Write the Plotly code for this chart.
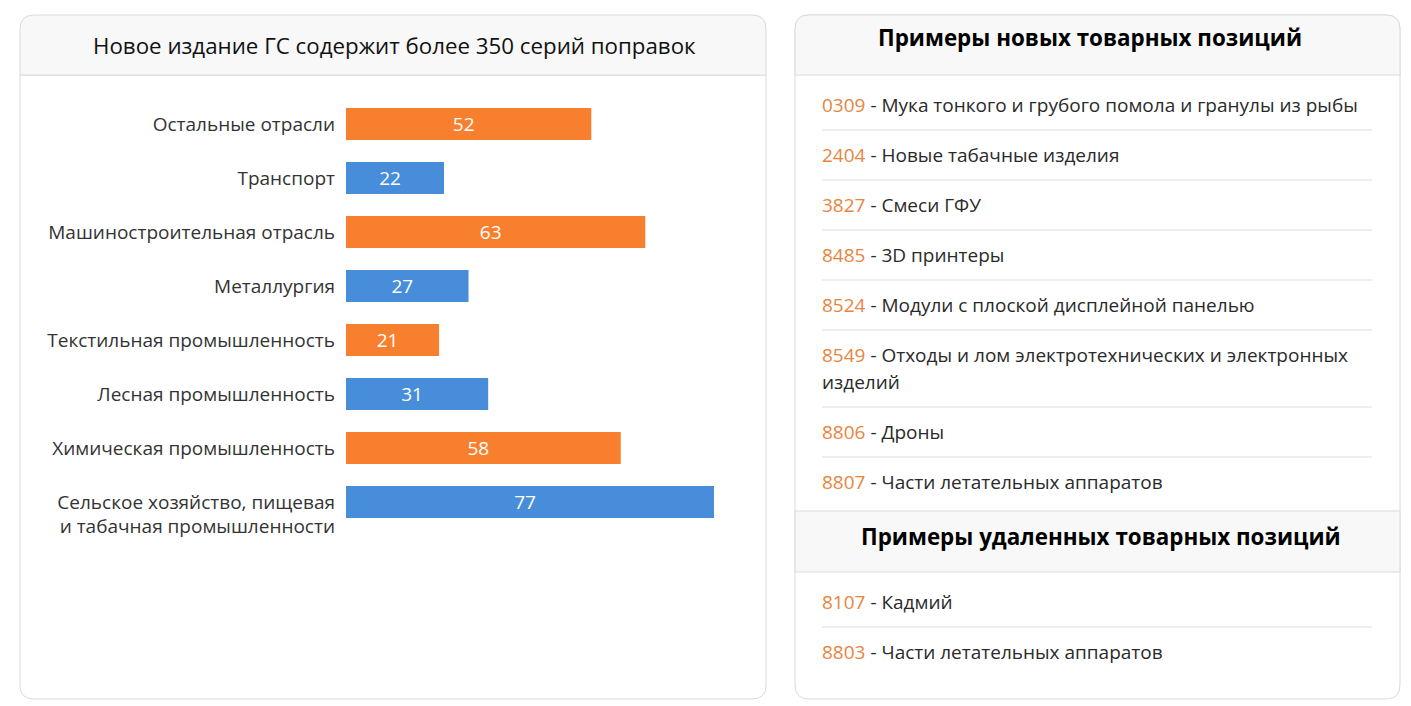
import plotly.graph_objects as go

W, H = 1411, 706
OFF = 8  # default page body margin; figure is drawn at (8, 8) in the page

# ---------------- data ----------------
categories = [
    "Остальные отрасли",
    "Транспорт",
    "Машиностроительная отрасль",
    "Металлургия",
    "Текстильная промышленность",
    "Лесная промышленность",
    "Химическая промышленность",
    "Сельское хозяйство, пищевая<br>и табачная промышленности",
]
values = [52, 22, 63, 27, 21, 31, 58, 77]
bar_colors = ["#F77F2D", "#478DD9", "#F77F2D", "#478DD9",
              "#F77F2D", "#478DD9", "#F77F2D", "#478DD9"]

chart_title = "Новое издание ГС содержит более 350 серий поправок"
new_title = "Примеры новых товарных позиций"
new_codes = ["0309", "2404", "3827", "8485", "8524", "8549", "8806", "8807"]
new_names = [
    "Мука тонкого и грубого помола и гранулы из рыбы",
    "Новые табачные изделия",
    "Смеси ГФУ",
    "3D принтеры",
    "Модули с плоской дисплейной панелью",
    "Отходы и лом электротехнических и электронных<br>изделий",
    "Дроны",
    "Части летательных аппаратов",
]
removed_title = "Примеры удаленных товарных позиций"
removed_codes = ["8107", "8803"]
removed_names = ["Кадмий", "Части летательных аппаратов"]

# ---------------- helpers ----------------
def px(x):
    return (x - OFF) / W

def py(y):
    return 1 - (y - OFF) / H

def rounded_rect(x0, y0, x1, y1, r, top=True, bottom=True):
    rx, ry = r / W, r / H
    X0, X1 = px(x0), px(x1)
    Y0, Y1 = py(y0), py(y1)
    p = []
    if top:
        p.append(f"M {X0} {Y0 - ry} Q {X0} {Y0} {X0 + rx} {Y0} L {X1 - rx} {Y0} Q {X1} {Y0} {X1} {Y0 - ry}")
    else:
        p.append(f"M {X0} {Y0} L {X1} {Y0}")
    if bottom:
        p.append(f"L {X1} {Y1 + ry} Q {X1} {Y1} {X1 - rx} {Y1} L {X0 + rx} {Y1} Q {X0} {Y1} {X0} {Y1 + ry}")
    else:
        p.append(f"L {X1} {Y1} L {X0} {Y1}")
    p.append("Z")
    return " ".join(p)

FONT = "Open Sans, Noto Sans, sans-serif"
BORDER = "#DADADA"
HEADER_BG = "#F8F8F8"
SEP = "#DDDDDD"
CODE_COLOR = "#E8853E"
TEXT_COLOR = "#2A2A2A"
LABEL_SIZE = 19

fig = go.Figure()

fig.add_trace(go.Bar(
    y=categories,
    x=values,
    orientation="h",
    marker=dict(color=bar_colors, line=dict(width=0)),
    text=[str(v) for v in values],
    textposition="inside",
    insidetextanchor="middle",
    textangle=0,
    constraintext="none",
    textfont=dict(color="white", size=LABEL_SIZE, family=FONT),
    hoverinfo="skip",
))

# multi-line label gets a leading blank line so its first line sits at the bar
ticktext = [(" <br>" + c) if "<br>" in c else c for c in categories]

shapes = []
annotations = []

# Left card
shapes.append(dict(type="path", xref="paper", yref="paper",
                   path=rounded_rect(20, 75, 766, 699, 14, top=False),
                   fillcolor="white", line=dict(color=BORDER, width=1), layer="below"))
shapes.append(dict(type="path", xref="paper", yref="paper",
                   path=rounded_rect(20, 15, 766, 75, 14, bottom=False),
                   fillcolor=HEADER_BG, line=dict(color=BORDER, width=1), layer="below"))
annotations.append(dict(x=px(394), y=py(46), xref="paper", yref="paper",
                        text=chart_title, showarrow=False, xanchor="center", yanchor="middle",
                        font=dict(family=FONT, size=22.3, color="#111111")))

# Right card
shapes.append(dict(type="path", xref="paper", yref="paper",
                   path=rounded_rect(795, 15, 1400, 699, 14),
                   fillcolor="white", line=dict(color=BORDER, width=1), layer="below"))
shapes.append(dict(type="path", xref="paper", yref="paper",
                   path=rounded_rect(795, 15, 1400, 75, 14, bottom=False),
                   fillcolor=HEADER_BG, line=dict(color=BORDER, width=1), layer="below"))
shapes.append(dict(type="rect", xref="paper", yref="paper",
                   x0=px(795), x1=px(1400), y0=py(572), y1=py(511),
                   fillcolor=HEADER_BG, line=dict(color=BORDER, width=1), layer="below"))

annotations.append(dict(x=px(1090), y=py(37), xref="paper", yref="paper",
                        text=f"<b>{new_title}</b>", showarrow=False, xanchor="center", yanchor="middle",
                        font=dict(family=FONT, size=22.4, color="#000000")))
annotations.append(dict(x=px(1101), y=py(536), xref="paper", yref="paper",
                        text=f"<b>{removed_title}</b>", showarrow=False, xanchor="center", yanchor="middle",
                        font=dict(family=FONT, size=22.4, color="#000000")))

def add_items(codes, names, y_start, step=50, line_h=27):
    y = y_start
    seps = []
    for i, (c, n) in enumerate(zip(codes, names)):
        lines = n.split("<br>")
        for j, ln in enumerate(lines):
            txt = (f"<span style='color:{CODE_COLOR}'>{c}</span> - {ln}") if j == 0 else ln
            annotations.append(dict(x=px(820), y=py(y + j * line_h), xref="paper", yref="paper",
                                    text=txt, showarrow=False, xanchor="left", yanchor="middle",
                                    font=dict(family=FONT, size=LABEL_SIZE, color=TEXT_COLOR)))
        extra = (len(lines) - 1) * line_h
        if i < len(codes) - 1:
            seps.append(y + extra + 25)
        y += step + extra
    for s in seps:
        shapes.append(dict(type="line", xref="paper", yref="paper",
                           x0=px(822), x1=px(1372), y0=py(s), y1=py(s),
                           line=dict(color=SEP, width=1), layer="below"))

add_items(new_codes, new_names, 105)
add_items(removed_codes, removed_names, 602)

# scrollbar of the original page
shapes.append(dict(type="rect", xref="paper", yref="paper",
                   x0=px(1406), x1=px(1411), y0=py(706), y1=py(0),
                   fillcolor="#F1F1F1", line=dict(width=0), layer="below"))
shapes.append(dict(type="rect", xref="paper", yref="paper",
                   x0=px(1407), x1=px(1411), y0=py(172), y1=py(33),
                   fillcolor="#C8C8C8", line=dict(width=0), layer="below"))

x_lo = 10 / 4.909
fig.update_layout(
    width=W, height=H,
    margin=dict(l=0, r=0, t=0, b=0, autoexpand=False),
    paper_bgcolor="white",
    plot_bgcolor="rgba(0,0,0,0)",
    showlegend=False,
    bargap=0.41,
    shapes=shapes,
    annotations=annotations,
    font=dict(family=FONT, color="#333333"),
    xaxis=dict(domain=[px(346), px(740)], range=[x_lo, x_lo + 394 / 4.909],
               visible=False, fixedrange=True, automargin=False),
    yaxis=dict(domain=[py(529), py(97)], autorange="reversed", type="category",
               tickmode="array", tickvals=categories, ticktext=ticktext,
               showgrid=False, showline=False, zeroline=False, ticks="",
               ticklabelstandoff=10, automargin=False,
               tickfont=dict(family=FONT, size=LABEL_SIZE, color="#333333"), fixedrange=True),
)

fig.write_html("out.html", config={"displayModeBar": False})
